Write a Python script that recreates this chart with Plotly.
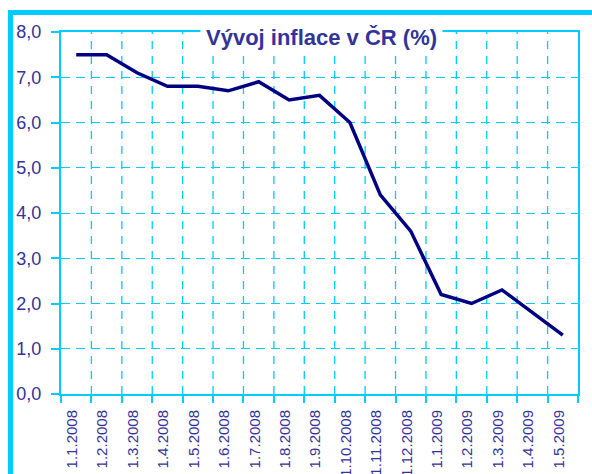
import plotly.graph_objects as go

categories = ["1.1.2008", "1.2.2008", "1.3.2008", "1.4.2008", "1.5.2008", "1.6.2008",
              "1.7.2008", "1.8.2008", "1.9.2008", "1.10.2008", "1.11.2008", "1.12.2008",
              "1.1.2009", "1.2.2009", "1.3.2009", "1.4.2009", "1.5.2009"]
inflation = [7.5, 7.5, 7.1, 6.8, 6.8, 6.7, 6.9, 6.5, 6.6, 6.0, 4.4, 3.6,
             2.2, 2.0, 2.3, 1.8, 1.3]
title_text = "Vývoj inflace v ČR (%)"

CYAN = "#00CCFF"
NAVY = "#000080"
LABEL = "#333399"

W, H = 592, 474
L, R, T, B = 61, 578, 32, 394


def px_x(p):
    return (p - L) / (R - L)


def px_y(p):
    return (B - p) / (B - T)


idx = list(range(len(categories)))
boundaries = [i - 0.5 for i in range(len(categories) + 1)]

fig = go.Figure()
fig.add_trace(go.Scatter(x=idx, y=inflation, mode="lines",
                         line=dict(color=NAVY, width=3.5), showlegend=False,
                         hoverinfo="skip"))

fig.update_layout(
    width=W, height=H,
    margin=dict(l=L, r=W - R, t=T, b=H - B, pad=0, autoexpand=False),
    paper_bgcolor="white", plot_bgcolor="white",
    separators=", ",
    font=dict(family="Liberation Sans, Arial, sans-serif", color=LABEL),
    showlegend=False,
)
fig.update_xaxes(
    type="linear", range=[-0.5, len(categories) - 0.5],
    tickmode="array", tickvals=idx, ticktext=categories,
    ticks="", showgrid=False,
    minor=dict(tickmode="array", tickvals=boundaries, ticks="outside", ticklen=7,
               tickcolor=CYAN, tickwidth=1.5, showgrid=False),
    showline=True, linecolor=CYAN, linewidth=2, mirror=True,
    tickangle=-90, tickfont=dict(size=15, color=LABEL),
    ticklabelstandoff=8, ticklabelshift=-4,
    zeroline=False, automargin=False, fixedrange=True,
)
fig.update_yaxes(
    range=[0, 8], dtick=1, tickformat=".1f",
    ticks="outside", ticklen=8, tickcolor=CYAN, tickwidth=1.5,
    showgrid=True, gridcolor=CYAN, griddash="9px,6px", gridwidth=1,
    showline=True, linecolor=CYAN, linewidth=2, mirror=True,
    tickfont=dict(size=18, color=LABEL), ticklabelstandoff=6,
    zeroline=False, automargin=False, fixedrange=True,
)

# vertical dashed gridlines at category boundaries
for bx in boundaries[1:-1]:
    fig.add_shape(type="line", xref="x", yref="paper", x0=bx, x1=bx, y0=0, y1=1,
                  line=dict(color=CYAN, width=1.3, dash="8px,7px"), layer="below")

# outer frame (top and left thick cyan lines)
fig.add_shape(type="line", xref="paper", yref="paper",
              x0=px_x(8), x1=px_x(600), y0=px_y(12.5), y1=px_y(12.5),
              line=dict(color=CYAN, width=5))
fig.add_shape(type="line", xref="paper", yref="paper",
              x0=px_x(10.5), x1=px_x(10.5), y0=px_y(10), y1=px_y(480),
              line=dict(color=CYAN, width=5))

fig.add_annotation(text="<b>" + title_text + "</b>", xref="paper", yref="paper",
                   x=px_x(321.5), y=px_y(37), showarrow=False,
                   xanchor="center", yanchor="middle",
                   font=dict(size=22, color=LABEL, family="Liberation Sans, Arial, sans-serif"),
                   bgcolor="white", borderpad=5)

fig.write_html("out.html", config={"displayModeBar": False},
               post_script="document.body.style.margin='0';document.body.style.overflow='hidden';")
